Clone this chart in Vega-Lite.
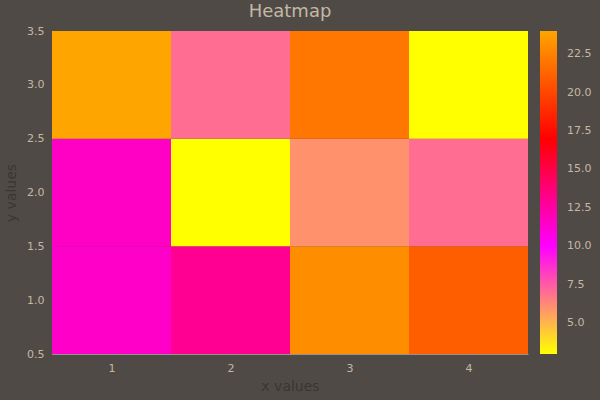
{
  "$schema": "https://vega.github.io/schema/vega-lite/v6.json",
  "width": 476,
  "height": 323,
  "autosize": {"type": "none"},
  "padding": {"left": 52, "top": 31, "right": 72, "bottom": 46},
  "background": "#504A47",
  "title": {"text": "Heatmap", "fontSize": 18, "color": "#C2B9A3", "font": "DejaVu Sans", "fontWeight": "normal", "offset": 4, "anchor": "middle"},
  "config": {
    "view": {"stroke": null},
    "axis": {
      "labelColor": "#C2B9A3", "labelFont": "DejaVu Sans", "labelFontSize": 11,
      "titleColor": "#3A3633", "titleFont": "DejaVu Sans", "titleFontSize": 14, "titleFontWeight": "normal",
      "domainColor": "#9A938B", "tickColor": "#9A938B", "tickSize": 0, "grid": false,
      "labelPadding": 8
    }
  },
  "data": {"values": [
    {"x": 1, "y": 1, "z": 11.5}, {"x": 2, "y": 1, "z": 13}, {"x": 3, "y": 1, "z": 23}, {"x": 4, "y": 1, "z": 21},
    {"x": 1, "y": 2, "z": 11.6}, {"x": 2, "y": 2, "z": 3}, {"x": 3, "y": 2, "z": 6}, {"x": 4, "y": 2, "z": 7},
    {"x": 1, "y": 3, "z": 24}, {"x": 2, "y": 3, "z": 7}, {"x": 3, "y": 3, "z": 22}, {"x": 4, "y": 3, "z": 3}
  ]},
  "layer": [
    {
      "mark": {"type": "rect"},
      "encoding": {
        "x": {"field": "x", "type": "ordinal", "axis": null, "scale": {"paddingInner": 0, "paddingOuter": 0}},
        "y": {"field": "y", "type": "ordinal", "sort": "descending", "axis": null, "scale": {"paddingInner": 0, "paddingOuter": 0}},
        "color": {
          "field": "z", "type": "quantitative",
          "scale": {"domain": [3, 10, 17, 24], "range": ["#FFFF00", "#FF00FF", "#FF0000", "#FFA500"], "interpolate": "rgb"},
          "legend": {
            "orient": "none", "legendX": 488, "legendY": 0, "direction": "vertical",
            "gradientLength": 323, "gradientThickness": 17, "title": null,
            "values": [5, 7.5, 10, 12.5, 15, 17.5, 20, 22.5], "format": ".1f",
            "labelColor": "#C2B9A3", "labelFont": "DejaVu Sans", "labelFontSize": 11, "labelOffset": 10,
            "labelOverlap": false, "gradientStrokeWidth": 0, "padding": 0
          }
        }
      }
    },
    {
      "mark": {"type": "point", "opacity": 0},
      "encoding": {
        "x": {"field": "x", "type": "quantitative", "scale": {"domain": [0.5, 4.5], "nice": false, "zero": false},
              "axis": {"orient": "bottom", "values": [1, 2, 3, 4], "title": "x values", "titlePadding": 6}},
        "y": {"field": "y", "type": "quantitative", "scale": {"domain": [0.5, 3.5], "nice": false, "zero": false},
              "axis": {"orient": "left", "values": [0.5, 1, 1.5, 2, 2.5, 3, 3.5], "format": ".1f", "title": "y values", "titlePadding": 8}}
      }
    }
  ],
  "resolve": {"scale": {"x": "independent", "y": "independent"}}
}
